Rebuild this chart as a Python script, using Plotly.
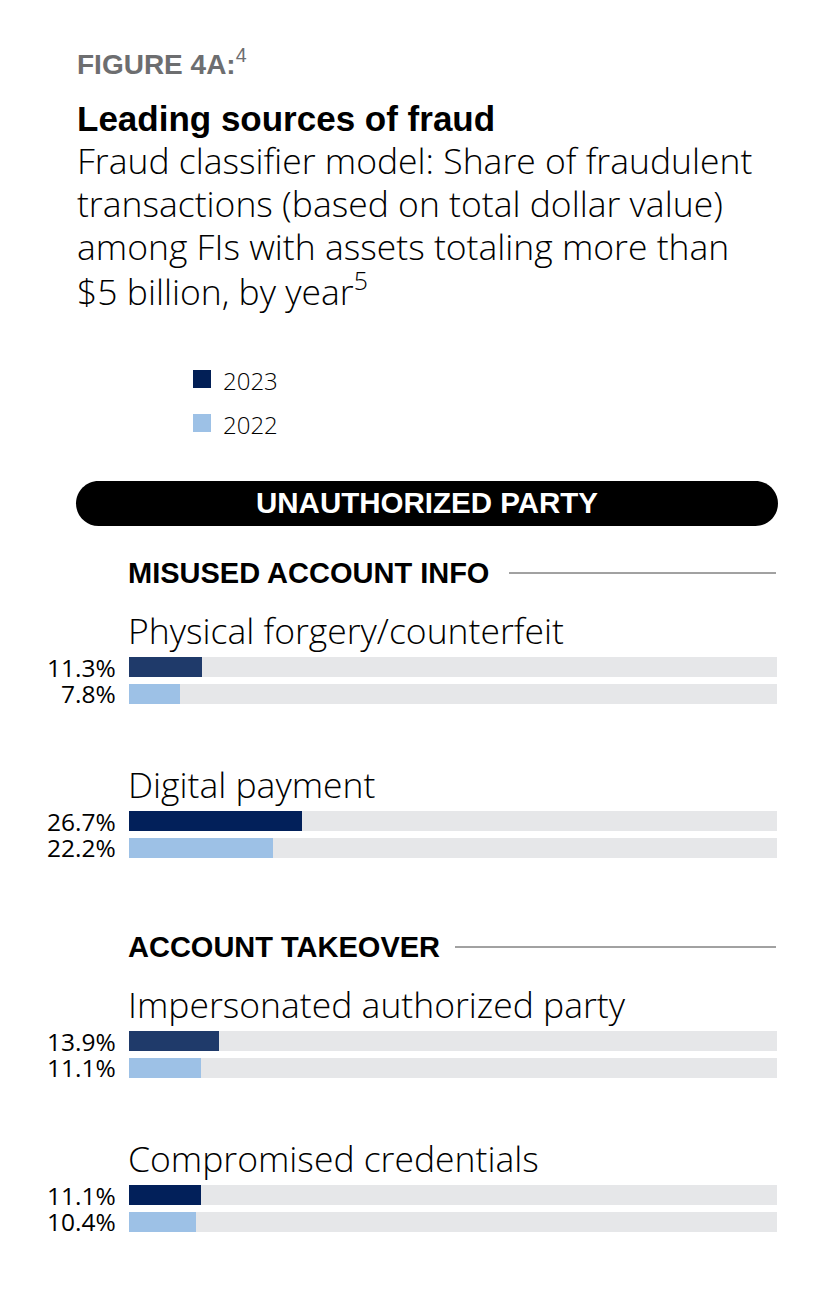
import plotly.graph_objects as go

# data
categories = ["Physical forgery/counterfeit", "Digital payment",
              "Impersonated authorized party", "Compromised credentials"]
sections = ["MISUSED ACCOUNT INFO", "ACCOUNT TAKEOVER"]
section_of = [0, 0, 1, 1]
years = ["2023", "2022"]
vals_2023 = [11.3, 26.7, 13.9, 11.1]
vals_2022 = [7.8, 22.2, 11.1, 10.4]

# styles
W, H = 836, 1297
OFF = 8  # page body margin around the plot div
DARK = "#021f56"
DARK_BARS = ["#1f3a6a", "#02205a", "#1f3a6a", "#02205a"]
LIGHT = "#9dc1e6"
TRACK = "#e6e7e9"
BOLD = "Liberation Sans"
LIGHTFONT = "Open Sans"

# vertical layout (page pixels from top)
section_y = [573, 947]
group_step = 154
first_bar = 94
bar_gap = 26.5

bar1_y, bar2_y, label_y = [], [], []
count = {0: 0, 1: 0}
for i, s in enumerate(section_of):
    k = count[s]
    count[s] += 1
    y1 = section_y[s] + first_bar + group_step * k
    bar1_y.append(y1)
    bar2_y.append(y1 + bar_gap)
    label_y.append(y1 - 37)


def px(x):
    # page x pixel -> paper fraction
    return (x - OFF) / W


fig = go.Figure()
fig.add_trace(go.Bar(x=[100] * len(categories) * 2, y=bar1_y + bar2_y,
                     orientation="h", width=20, marker_color=TRACK,
                     marker_line_width=0, hoverinfo="skip", showlegend=False))
fig.add_trace(go.Bar(x=vals_2023, y=bar1_y, orientation="h", width=20,
                     marker_color=DARK_BARS, marker_line_width=0, name="2023",
                     showlegend=False, customdata=categories,
                     hovertemplate="%{customdata}<br>2023: %{x}%<extra></extra>"))
fig.add_trace(go.Bar(x=vals_2022, y=bar2_y, orientation="h", width=20,
                     marker_color=LIGHT, marker_line_width=0, name="2022",
                     showlegend=False, customdata=categories,
                     hovertemplate="%{customdata}<br>2022: %{x}%<extra></extra>"))

ann = []
shapes = []


def text(x, y, s, size, color="#000", family=LIGHTFONT, weight=None, anchor="left"):
    f = dict(size=size, color=color, family=family)
    if weight:
        f["weight"] = weight
    ann.append(dict(x=px(x), y=y, xref="paper", yref="y", text=s, showarrow=False,
                    xanchor=anchor, yanchor="middle", font=f,
                    xshift=-3 if anchor == "left" else 0))


# header
text(78, 62, "FIGURE 4A:<sup><span style='font-weight:400'>4</span></sup>",
     28, "#6d6e70", BOLD, 700)
text(78, 118, "Leading sources of fraud", 35, "#000", BOLD, 700)
subtitle = ["Fraud classifier model: Share of fraudulent",
            "transactions (based on total dollar value)",
            "among FIs with assets totaling more than",
            "$5 billion, by year<sup>5</sup>"]
for i, line in enumerate(subtitle):
    text(78, 160 + 43 * i, line, 35.5, "#000", LIGHTFONT, 300)

# legend
for i, (yr, col) in enumerate(zip(years, [DARK, LIGHT])):
    yc = 379 + 44 * i
    shapes.append(dict(type="rect", xref="paper", yref="y", x0=px(193), x1=px(211),
                       y0=yc - 9, y1=yc + 9, fillcolor=col, line_width=0))
    text(224, yc + 1, yr, 24, "#000", LIGHTFONT, 300)

# pill banner
x0, x1, y0, y1 = 76, 778, 481, 526
r = (y1 - y0) / 2
c = r * 0.5523
ym = (y0 + y1) / 2
pts = [("M", [(x0 + r, y0)]), ("L", [(x1 - r, y0)]),
       ("C", [(x1 - r + c, y0), (x1, ym - c), (x1, ym)]),
       ("C", [(x1, ym + c), (x1 - r + c, y1), (x1 - r, y1)]),
       ("L", [(x0 + r, y1)]),
       ("C", [(x0 + r - c, y1), (x0, ym + c), (x0, ym)]),
       ("C", [(x0, ym - c), (x0 + r - c, y0), (x0 + r, y0)])]
path = " ".join(cmd + " " + " ".join(f"{px(a):.5f},{b}" for a, b in p) for cmd, p in pts) + " Z"
shapes.append(dict(type="path", xref="paper", yref="y", path=path,
                   fillcolor="#000", line_width=0))
text(427, 502, "UNAUTHORIZED PARTY", 29.5, "#fff", BOLD, 700, "center")

# section headers with rules
rule_start = [509, 455]
for s, name in enumerate(sections):
    text(129, section_y[s], name, 29, "#000", BOLD, 700)
    shapes.append(dict(type="line", xref="paper", yref="y", x0=px(rule_start[s]),
                       x1=px(776), y0=section_y[s], y1=section_y[s],
                       line=dict(color="#444", width=1)))

# category labels and values
for i, cat in enumerate(categories):
    ann.append(dict(x=0, y=label_y[i], xref="x", yref="y", text=cat, showarrow=False,
                    xanchor="left", yanchor="middle", xshift=-3,
                    font=dict(size=35.5, color="#000", family=LIGHTFONT, weight=300)))
    for yy, v in [(bar1_y[i], vals_2023[i]), (bar2_y[i], vals_2022[i])]:
        ann.append(dict(x=0, y=yy, xref="x", yref="y", text=f"{v:.1f}%",
                        showarrow=False, xanchor="right", yanchor="middle", xshift=-11,
                        font=dict(size=24.5, color="#000", family=LIGHTFONT, weight=400)))

fig.update_layout(
    width=W, height=H, margin=dict(l=0, r=0, t=0, b=0),
    paper_bgcolor="#fff", plot_bgcolor="#fff",
    barmode="overlay", bargap=0,
    xaxis=dict(range=[0, 100], domain=[px(129), px(777)], visible=False, fixedrange=True),
    yaxis=dict(range=[H + OFF, OFF], domain=[0, 1], visible=False, fixedrange=True),
    annotations=ann, shapes=shapes,
)

fig.write_html("out.html")
